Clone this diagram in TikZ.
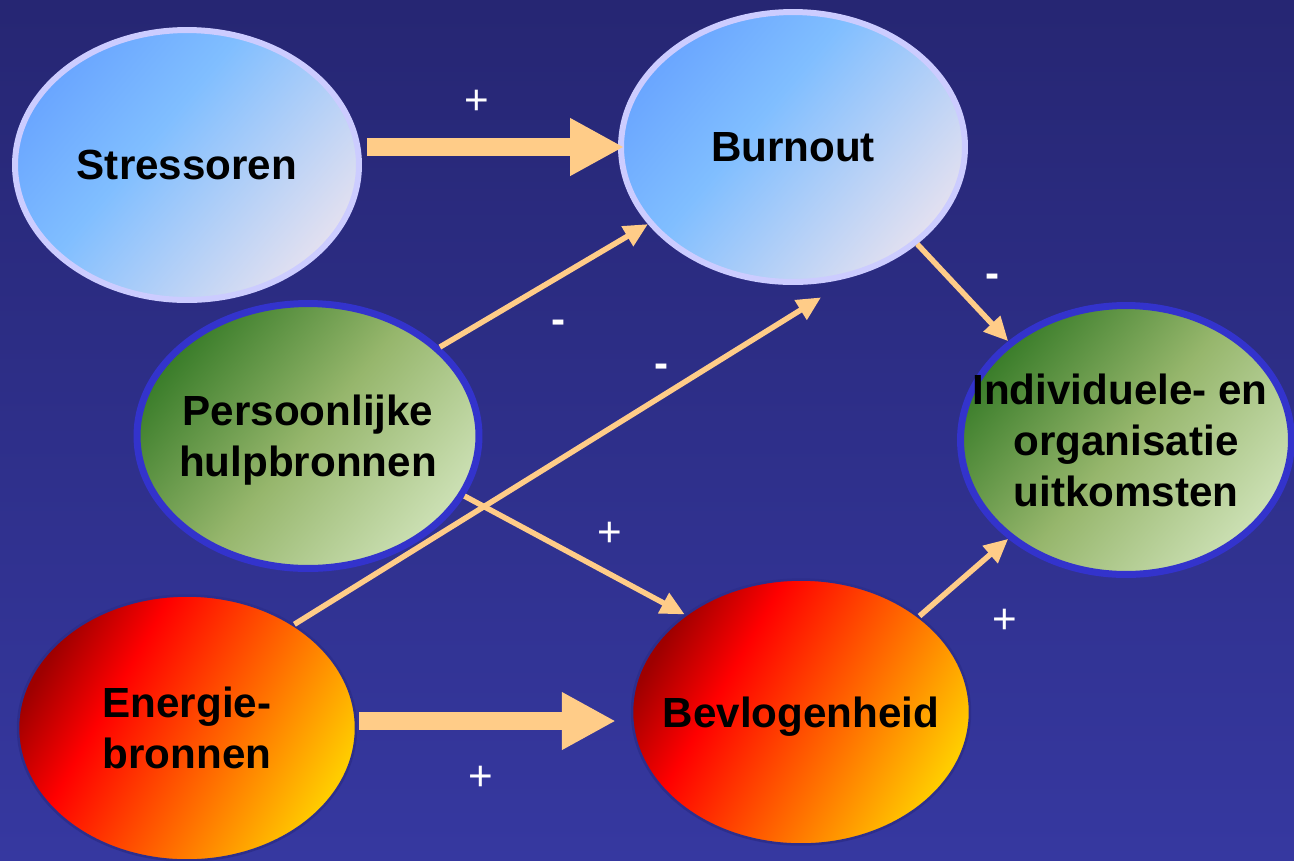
\documentclass[tikz,border=0pt]{standalone}
\usepackage{fontspec}
\setmainfont{Liberation Sans}
\usetikzlibrary{shapes.geometric,arrows.meta}

\definecolor{bgtop}{RGB}{38,38,115}
\definecolor{bgbot}{RGB}{54,56,160}
\definecolor{arrowcol}{RGB}{255,204,136}
\definecolor{blueA}{RGB}{106,166,255}
\definecolor{blueB}{RGB}{128,190,255}
\definecolor{blueC}{RGB}{226,224,240}
\definecolor{blueline}{RGB}{204,204,255}
\definecolor{greenA}{RGB}{58,125,42}
\definecolor{greenB}{RGB}{150,182,108}
\definecolor{greenC}{RGB}{204,224,180}
\definecolor{greenline}{RGB}{51,51,204}
\definecolor{redA}{RGB}{158,0,0}
\definecolor{redB}{RGB}{255,0,0}
\definecolor{redC}{RGB}{255,112,0}
\definecolor{redD}{RGB}{255,204,0}
\definecolor{redline}{RGB}{45,46,140}

\pgfdeclarehorizontalshading{bluefill}{100bp}{color(0bp)=(blueA); color(25bp)=(blueA); color(43bp)=(blueB); color(75bp)=(blueC); color(100bp)=(blueC)}
\pgfdeclarehorizontalshading{greenfill}{100bp}{color(0bp)=(greenA); color(25bp)=(greenA); color(50bp)=(greenB); color(75bp)=(greenC); color(100bp)=(greenC)}
\pgfdeclarehorizontalshading{redfill}{100bp}{color(0bp)=(redA); color(25bp)=(redA); color(37bp)=(redB); color(58bp)=(redC); color(75bp)=(redD); color(100bp)=(redD)}

\begin{document}
\begin{tikzpicture}[x=0.02cm, y=-0.02cm,
    oval/.style={ellipse, shade, inner xsep=-0.8cm, inner ysep=0pt, text depth=0pt,
      align=center, font=\fontsize{24}{29}\selectfont\bfseries},
    bluenode/.style={oval, shading=bluefill, shading angle=-40, draw=blueline,
      line width=0.12cm, minimum width=6.88cm, minimum height=5.4cm},
    greennode/.style={oval, shading=greenfill, shading angle=-40, draw=greenline,
      line width=0.14cm},
    rednode/.style={oval, shading=redfill, shading angle=-30, draw=redline,
      line width=0.05cm, minimum width=6.76cm, minimum height=5.3cm},
    bigarrow/.style={draw=arrowcol, line width=0.36cm, -{Triangle[length=1.08cm, width=1.08cm]}},
    thinarrow/.style={draw=arrowcol, line width=0.11cm, -{Triangle[length=0.48cm, width=0.44cm]}},
    plus/.style={text=white, font=\fontsize{24}{29}\selectfont},
    minus/.style={text=white, font=\fontsize{24}{29}\selectfont\bfseries}]

    % background
    \shade[top color=bgtop, bottom color=bgbot] (0,0) rectangle (1294,860);
    \useasboundingbox (0,0) rectangle (1294,860);

    % ovals
    \node (stress) at (187,165) [bluenode] {Stressoren};
    \node (burn) at (793,147) [bluenode] {Burnout};
    \node (pers) at (308,436) [greennode, minimum width=6.84cm, minimum height=5.3cm] {Persoonlijke\\hulpbronnen};
    \node (indiv) at (1126,440) [greennode, minimum width=6.62cm, minimum height=5.38cm] {Individuele- en\hspace*{0.24cm}\\organisatie\\uitkomsten};
    \node (energ) at (187,728) [rednode] {Energie-\\bronnen};
    \node (bevl) at (801,712) [rednode] {Bevlogenheid};

    % arrows
    \draw[bigarrow, shorten <=0.1cm, shorten >=-0.12cm] (stress.east |- burn.west) -- (burn.west);
    \draw[bigarrow, shorten <=0.04cm, shorten >=0.3cm] ([yshift=0.14cm]energ.east) -- ([yshift=0.14cm]energ.east -| bevl.west);
    \draw[thinarrow] (pers.34) -- (burn.208);
    \draw[thinarrow, shorten >=0.82cm] (energ.44) -- (burn.-64);
    \draw[thinarrow] (pers.-21) -- (bevl.140);
    \draw[thinarrow] (burn.-38) -- (indiv.140);
    \draw[thinarrow] (bevl.39) -- (indiv.220);

    % signs
    \node (p1) at (477,102) [plus] {+};
    \node (p2) at (481,778) [plus] {+};
    \node (p3) at (610,534) [plus] {+};
    \node (p4) at (1005,621) [plus] {+};
    \node (m1) at (559,327) [minus] {-};
    \node (m2) at (662,371) [minus] {-};
    \node (m3) at (993,281) [minus] {-};

\end{tikzpicture}
\end{document}
